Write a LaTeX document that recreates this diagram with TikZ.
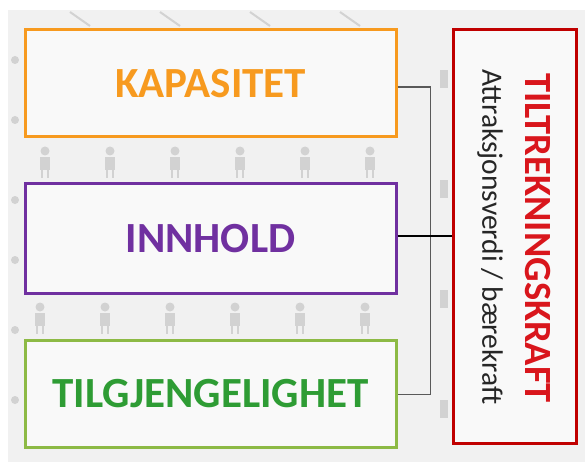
\documentclass[tikz,border=0pt]{standalone}
\usepackage{fontspec}
\setmainfont{Carlito}
\definecolor{kapOrange}{HTML}{F79A1F}
\definecolor{innPurple}{HTML}{7030A0}
\definecolor{tilGreenBox}{HTML}{8DBA45}
\definecolor{tilGreenText}{HTML}{2E9C34}
\definecolor{attRed}{HTML}{C00000}
\definecolor{attRedText}{HTML}{D9161C}
\definecolor{patternBg}{HTML}{F1F1F1}
\definecolor{pictoGray}{HTML}{D2D2D2}
\definecolor{boxFill}{HTML}{F9F9F9}
\begin{document}
\begin{tikzpicture}[x=1pt,y=-1pt,
  factorbox/.style={draw, line width=3pt, fill=boxFill, minimum width=371pt,
    minimum height=107pt, inner sep=0pt, font=\fontsize{43}{43}\selectfont\bfseries},
  conn/.style={draw=black!65, line width=1.4pt},
  mainconn/.style={draw=black, line width=2pt},
  picto/.pic={
    \fill[pictoGray] (0,-9) circle (4.5);
    \fill[pictoGray] (-5,-3) rectangle (5,10);
    \draw[pictoGray, line width=2.5pt] (-3,10) -- (-3,18) (3,10) -- (3,18);}]
  \useasboundingbox (0,0) rectangle (585,462);
  % light backdrop with faint pictograms
  \fill[patternBg] (8,10) rectangle (585,462);
  \foreach \px in {45,110,175,240,305,370}
    \pic at (\px,160) {picto};
  \foreach \px in {40,105,170,235,300,365}
    \pic at (\px,316) {picto};
  \foreach \py in {60,120,200,260,330,400}
    \fill[pictoGray] (15,\py) circle (4);
  \foreach \px in {70,160,250,340}
    \draw[pictoGray, line width=2pt] (\px,12) -- ++(20,14);
  \foreach \py in {70,180,290,400}
    \fill[pictoGray] (440,\py) rectangle ++(8,18);
  % three factor boxes
  \node[factorbox, draw=kapOrange, text=kapOrange] (kap) at (210.5,83.5) {KAPASITET};
  \node[factorbox, draw=innPurple, text=innPurple, minimum height=109pt] (inn) at (210.5,238.5) {INNHOLD};
  \node[factorbox, draw=tilGreenBox, text=tilGreenText] (til) at (210.5,393.5) {TILGJENGELIGHET};
  % result box with vertical text
  \node[draw=attRed, line width=3pt, fill=boxFill, minimum width=123pt, minimum height=413pt,
    inner sep=0pt] (tr) at (514.5,236.5) {};
  \node[rotate=-90, text=attRedText, font=\fontsize{38.5}{38.5}\selectfont\bfseries] (trt) at (538,238) {TILTREKNINGSKRAFT};
  \node[rotate=-90, text=black!85, font=\fontsize{29.5}{29.5}\selectfont] (trs) at (490,237) {Attraksjonsverdi / bærekraft};
  % connectors
  \draw[conn] ([yshift=-3.5pt]kap.east) -- ++(33,0) |- ([yshift=-1pt]til.east);
  \draw[mainconn] ([yshift=2.5pt]inn.east) -- ([yshift=2.5pt]inn.east -| tr.west);
\end{tikzpicture}
\end{document}
